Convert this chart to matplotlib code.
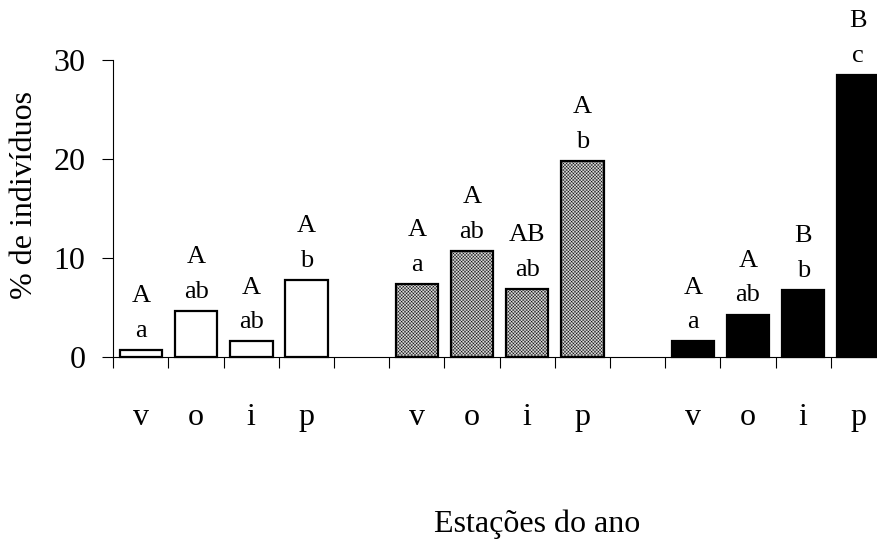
import numpy as np
import matplotlib.pyplot as plt

plt.rcParams['font.family'] = ['Liberation Serif', 'DejaVu Serif']
plt.rcParams['hatch.linewidth'] = 0.3
plt.rcParams['hatch.color'] = '#b4b4b4'

# % de indivíduos por estação (v, o, i, p) em cada grupo
estacoes = ['v', 'o', 'i', 'p']
grupo1 = [0.7, 4.7, 1.6, 7.8]
grupo2 = [7.4, 10.7, 6.9, 19.8]
grupo3 = [1.6, 4.3, 6.8, 28.5]

# letras de significância (linha de cima / linha de baixo)
letras_sup = [['A', 'A', 'A', 'A'],
              ['A', 'A', 'AB', 'A'],
              ['A', 'A', 'B', 'B']]
letras_inf = [['a', 'ab', 'ab', 'b'],
              ['a', 'ab', 'ab', 'b'],
              ['a', 'ab', 'b', 'c']]

fig = plt.figure(figsize=(8.77, 5.43), dpi=100)
ax = fig.add_axes([0.1292, 0.342, 0.881, 0.5475])

estilos = [dict(facecolor='white'),
           dict(facecolor='#d8d8d8', hatch='xxxxxxxxxx'),
           dict(facecolor='black')]

pos_all = []
for g, (vals, est) in enumerate(zip([grupo1, grupo2, grupo3], estilos)):
    pos = np.arange(4) + g * 5
    pos_all.extend(pos)
    bars = ax.bar(pos, vals, width=0.77, edgecolor='black', linewidth=1.6,
                  clip_on=False, **est)
    for b, sup, inf in zip(bars, letras_sup[g], letras_inf[g]):
        x = b.get_x() + b.get_width() / 2
        y = b.get_height()
        ax.annotate(inf, (x, y), xytext=(0, 9.5), textcoords='offset points',
                    ha='center', va='baseline', fontsize=19, annotation_clip=False)
        ax.annotate(sup, (x, y), xytext=(0, 34.5), textcoords='offset points',
                    ha='center', va='baseline', fontsize=19, annotation_clip=False)

ax.set_xlim(-0.5, 13.5)
ax.set_ylim(0, 30)

ax.set_xticks(pos_all)
ax.set_xticklabels(estacoes * 3, fontsize=23)
ax.set_xticks(np.arange(-0.5, 14, 1), minor=True)
ax.tick_params(axis='x', which='major', length=0, pad=33)
ax.tick_params(axis='x', which='minor', length=8, width=0.8, direction='out')

ax.set_yticks([0, 10, 20, 30])
ax.tick_params(axis='y', labelsize=23, length=8, width=0.8, pad=12, direction='out')

for s in ['top', 'right']:
    ax.spines[s].set_visible(False)
for s in ['left', 'bottom']:
    ax.spines[s].set_linewidth(0.8)

fig.text(25 / 877, 1 - 195 / 543, '% de indivíduos', rotation=90,
         ha='center', va='center', fontsize=23)
fig.text(537 / 877, 1 - 524 / 543, 'Estações do ano',
         ha='center', va='center', fontsize=23)

fig.savefig('out.png', dpi=100)
